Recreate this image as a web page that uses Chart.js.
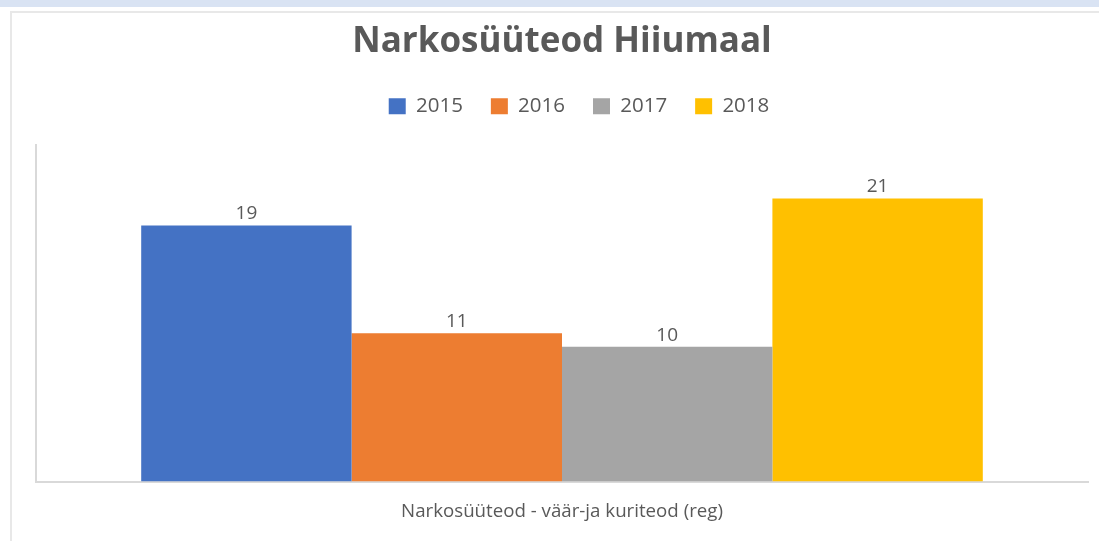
<!DOCTYPE html>
<html lang="et">
<head>
<meta charset="utf-8">
<title>Narkosüüteod Hiiumaal</title>
<script src="https://cdn.jsdelivr.net/npm/chart.js@4/dist/chart.umd.min.js"></script>
<style>
  html, body { margin: 0; padding: 0; background: #ffffff; }
  body { width: 1099px; height: 541px; position: relative; overflow: hidden; }
  .band { position: absolute; left: 0; top: 0; width: 1099px; height: 7px; background: #d9e3f3; }
  .frame { position: absolute; left: 10px; top: 11px; right: 0; bottom: 0;
           border-left: 2px solid #e8e8e8; border-top: 2px solid #e8e8e8; }
  #chart { position: absolute; left: 0; top: 0; }
</style>
</head>
<body>
<div class="band"></div>
<div class="frame"></div>
<canvas id="chart" width="1099" height="541"></canvas>
<script>
// Chart content
const chartTitle = 'Narkosüüteod Hiiumaal';
const categories = ['Narkosüüteod - väär-ja kuriteod (reg)'];
const seriesNames = ['2015', '2016', '2017', '2018'];
const seriesValues = [[19], [11], [10], [21]];
const seriesColors = ['#4472C4', '#ED7D31', '#A5A5A5', '#FFC000'];
const axisMax = 25;

const textColor = '#595959';
const lineColor = '#d9d9d9';

// Value labels above each bar, positioned from the bar elements
const valueLabels = {
  id: 'valueLabels',
  afterDatasetsDraw(chart) {
    const ctx = chart.ctx;
    ctx.save();
    ctx.font = '19px "Open Sans"';
    ctx.fillStyle = textColor;
    ctx.textAlign = 'center';
    ctx.textBaseline = 'bottom';
    chart.data.datasets.forEach((ds, i) => {
      chart.getDatasetMeta(i).data.forEach((bar, j) => {
        ctx.fillText(String(ds.data[j]), bar.x, bar.y - 2);
      });
    });
    ctx.restore();
  }
};

// Extra room below the legend and a small horizontal nudge of its row
const legendSpacing = {
  id: 'legendSpacing',
  afterInit(chart) {
    const lg = chart.legend;
    if (!lg) return;
    const fit = lg.fit.bind(lg);
    lg.fit = function () { fit(); this.height += 18; };
    const draw = lg.draw.bind(lg);
    lg.draw = function () {
      const ctx = this.ctx;
      ctx.save();
      ctx.translate(17, 0);
      draw();
      ctx.restore();
    };
  }
};

new Chart(document.getElementById('chart'), {
  type: 'bar',
  data: {
    labels: categories,
    datasets: seriesNames.map((name, i) => ({
      label: name,
      data: seriesValues[i],
      backgroundColor: seriesColors[i],
      borderWidth: 0,
      categoryPercentage: 0.8,
      barPercentage: 1.0
    }))
  },
  options: {
    responsive: false,
    animation: false,
    devicePixelRatio: 1,
    layout: { padding: { left: 36, right: 11, top: 0, bottom: 7 } },
    plugins: {
      title: {
        display: true,
        text: chartTitle,
        color: textColor,
        font: { family: '"Open Sans"', size: 35, weight: 'bold', lineHeight: 1.2 },
        padding: { top: 21, bottom: 5 }
      },
      legend: {
        display: true,
        position: 'top',
        labels: {
          color: textColor,
          font: { family: '"Open Sans"', size: 20.5 },
          boxWidth: 17,
          boxHeight: 16,
          padding: 28
        }
      },
      tooltip: { enabled: false }
    },
    scales: {
      x: {
        grid: { display: false },
        border: { display: true, color: lineColor, width: 2 },
        ticks: { color: textColor, font: { family: '"Open Sans"', size: 18.7 }, padding: 11 }
      },
      y: {
        min: 0,
        max: axisMax,
        grid: { display: false },
        border: { display: true, color: lineColor, width: 2 },
        ticks: { display: false },
        afterFit(scale) { scale.width = 0; }
      }
    }
  },
  plugins: [valueLabels, legendSpacing]
});
</script>
</body>
</html>
